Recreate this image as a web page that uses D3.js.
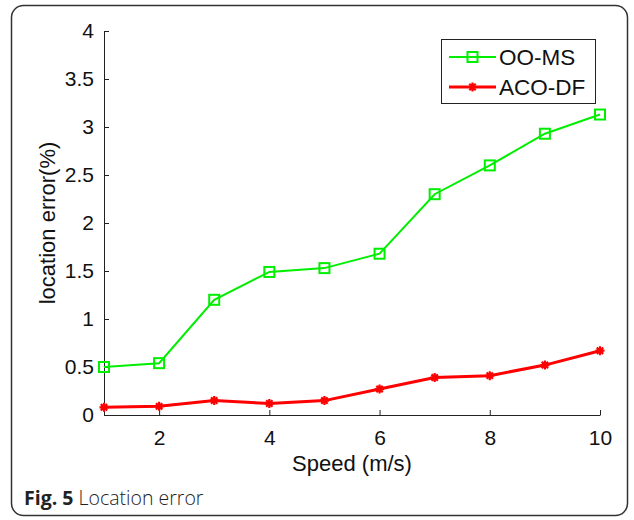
<!DOCTYPE html>
<html>
<head>
<meta charset="utf-8">
<script src="https://cdn.jsdelivr.net/npm/d3@7"></script>
<style>
  body { margin: 0; background: #fff; }
  svg { display: block; }
  text { font-family: "Liberation Sans", Arial, sans-serif; }
</style>
</head>
<body>
<svg width="634" height="520"></svg>
<script>
var width = 634,
    height = 520;

var speeds = [1, 2, 3, 4, 5, 6, 7, 8, 9, 10];
var ooms = [0.50, 0.54, 1.20, 1.49, 1.53, 1.68, 2.30, 2.60, 2.93, 3.13];
var acodf = [0.08, 0.09, 0.15, 0.12, 0.15, 0.27, 0.39, 0.41, 0.52, 0.67];
var xTicks = [2, 4, 6, 8, 10];
var yTicks = [0, 0.5, 1, 1.5, 2, 2.5, 3, 3.5, 4];
var seriesNames = ["OO-MS", "ACO-DF"];
var seriesColors = ["#00ee00", "#ff0000"];

var svg = d3.select("svg");

// outer figure frame
svg.append("rect")
    .attr("x", 11.5).attr("y", 5.5)
    .attr("width", 616).attr("height", 510)
    .attr("rx", 12)
    .attr("fill", "none")
    .attr("stroke", "#333")
    .attr("stroke-width", 1.5);

var x = d3.scaleLinear().domain([1, 10]).range([104, 600]);
var y = d3.scaleLinear().domain([0, 4]).range([415, 31]);

// axes (MATLAB style, ticks inward)
var xAxis = svg.append("g")
    .attr("transform", "translate(0," + y(0) + ")")
    .call(d3.axisBottom(x).tickValues(xTicks).tickSizeInner(-5).tickSizeOuter(0).tickPadding(15).tickFormat(d3.format("d")));
var yAxis = svg.append("g")
    .attr("transform", "translate(" + x(1) + ",0)")
    .call(d3.axisLeft(y).tickValues(yTicks).tickSizeInner(-5).tickSizeOuter(0).tickPadding(10).tickFormat(function(d) { return d; }));

[xAxis, yAxis].forEach(function(a) {
  a.select(".domain").attr("stroke", "#222");
  a.selectAll(".tick line").attr("stroke", "#222");
  a.selectAll(".tick text").attr("fill", "#111").style("font-size", "21px");
});
xAxis.selectAll(".tick text").attr("dy", "0.71em");

svg.append("text")
    .attr("x", (x(1) + x(10)) / 2)
    .attr("y", 471)
    .attr("text-anchor", "middle")
    .style("font-size", "22px")
    .attr("fill", "#111")
    .text("Speed (m/s)");

svg.append("text")
    .attr("transform", "translate(55," + (y(0) + y(4)) / 2 + ")rotate(-90)")
    .attr("text-anchor", "middle")
    .style("font-size", "22px")
    .attr("fill", "#111")
    .text("location error(%)");

var line = d3.line()
    .x(function(d, i) { return x(speeds[i]); })
    .y(function(d) { return y(d); });

function drawSquare(g, cx, cy, color) {
  g.append("rect")
      .attr("x", cx - 5).attr("y", cy - 5)
      .attr("width", 10).attr("height", 10)
      .attr("fill", "none")
      .attr("stroke", color)
      .attr("stroke-width", 2);
}

function drawStar(g, cx, cy, color) {
  var r = 4.5, d = 3.2;
  g.append("path")
      .attr("d", "M" + (cx - r) + "," + cy + "H" + (cx + r) +
                 "M" + cx + "," + (cy - r) + "V" + (cy + r) +
                 "M" + (cx - d) + "," + (cy - d) + "L" + (cx + d) + "," + (cy + d) +
                 "M" + (cx - d) + "," + (cy + d) + "L" + (cx + d) + "," + (cy - d))
      .attr("stroke", color)
      .attr("stroke-width", 2.2)
      .attr("fill", "none");
}

var series = [ooms, acodf];
var markers = [drawSquare, drawStar];
var widths = [2, 3];

series.forEach(function(vals, k) {
  var g = svg.append("g");
  g.append("path")
      .datum(vals)
      .attr("d", line)
      .attr("fill", "none")
      .attr("stroke", seriesColors[k])
      .attr("stroke-width", widths[k]);
  vals.forEach(function(v, i) {
    markers[k](g, x(speeds[i]), y(v), seriesColors[k]);
  });
});

// legend
var legend = svg.append("g");
legend.append("rect")
    .attr("x", 441.5).attr("y", 39.5)
    .attr("width", 154).attr("height", 64)
    .attr("fill", "#fff")
    .attr("stroke", "#222")
    .attr("stroke-width", 1);

seriesNames.forEach(function(name, k) {
  var ly = 57 + k * 30;
  legend.append("line")
      .attr("x1", 449).attr("x2", 496)
      .attr("y1", ly).attr("y2", ly)
      .attr("stroke", seriesColors[k])
      .attr("stroke-width", widths[k]);
  markers[k](legend, 472.5, ly, seriesColors[k]);
  legend.append("text")
      .attr("x", 499).attr("y", ly + 8)
      .style("font-size", "22.5px")
      .attr("fill", "#111")
      .text(name);
});

// caption
var cap = svg.append("text")
    .attr("x", 24).attr("y", 505)
    .style("font-family", "'Open Sans', sans-serif")
    .style("font-size", "19.5px")
    .attr("fill", "#222");
cap.append("tspan").style("font-weight", "bold").text("Fig. 5");
cap.append("tspan").style("font-weight", "300").text(" Location error");
</script>
</body>
</html>
